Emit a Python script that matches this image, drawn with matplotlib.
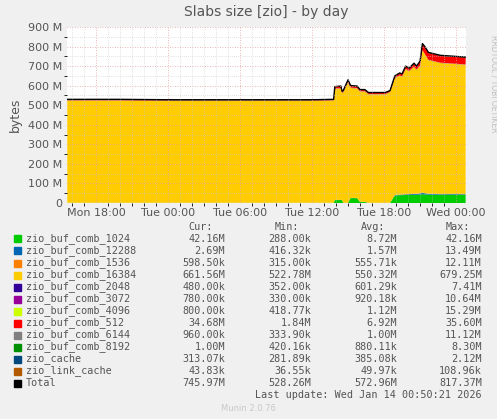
import matplotlib
matplotlib.use("Agg")
import matplotlib.pyplot as plt
import numpy as np

t = [15.6, 20, 24, 30, 36, 37.8, 37.9, 38.4, 38.5, 38.6, 39.0, 39.2, 39.3, 39.75, 40.0, 40.4, 40.7, 42.1,
     42.5, 42.9, 43.3, 43.5, 43.8, 44.1, 44.5, 44.7, 45.0, 45.2, 45.4, 45.7, 46.7, 47.9, 48.8]
total = [530, 530, 528, 528, 528, 530, 595, 598, 572, 575, 630, 602, 600, 598, 580, 580, 565, 565,
         575, 650, 665, 660, 700, 690, 715, 700, 725, 815, 800, 770, 755, 750, 746]
green = [0.3, 0.3, 0.3, 0.3, 0.3, 0.3, 15, 15, 15, 0.3, 0.3, 25, 25, 25, 5, 5, 0.3, 0.3,
         0.3, 38, 40, 40, 41, 41, 42, 42, 43, 45, 44, 43, 42, 43, 42]
red = [2, 2, 2, 2, 2, 2, 8, 8, 6, 6, 8, 8, 8, 8, 6, 6, 5, 5,
       5, 8, 10, 10, 12, 12, 15, 15, 20, 30, 35, 35, 35, 35, 35]
blue12288 = [0.4]*19 + [2, 3, 3, 3, 4, 4, 5, 6, 8, 6, 4, 3, 3, 2.7]
small = 0.6  # each of the other small series (approx.)

names = ["zio_buf_comb_1024", "zio_buf_comb_12288", "zio_buf_comb_1536", "zio_buf_comb_16384",
         "zio_buf_comb_2048", "zio_buf_comb_3072", "zio_buf_comb_4096", "zio_buf_comb_512",
         "zio_buf_comb_6144", "zio_buf_comb_8192", "zio_cache", "zio_link_cache", "Total"]
colors = ["#00CC00", "#0066B3", "#FF8000", "#FFCC00", "#330099", "#990099", "#CCFF00", "#FF0000",
          "#808080", "#008F00", "#00487D", "#B35A00", "#000000"]
cur = ["42.16M", "2.69M", "598.50k", "661.56M", "480.00k", "780.00k", "800.00k", "34.68M", "960.00k", "1.00M", "313.07k", "43.83k", "745.97M"]
mn = ["288.00k", "416.32k", "315.00k", "522.78M", "352.00k", "330.00k", "418.77k", "1.84M", "333.90k", "420.16k", "281.89k", "36.55k", "528.26M"]
avg = ["8.72M", "1.57M", "555.71k", "550.32M", "601.29k", "920.18k", "1.12M", "6.92M", "1.00M", "880.11k", "385.08k", "49.97k", "572.96M"]
mx = ["42.16M", "13.49M", "12.11M", "679.25M", "7.41M", "10.64M", "15.29M", "35.60M", "11.12M", "8.30M", "2.12M", "108.96k", "817.37M"]

tt = np.array(t)
g = np.array(green); b = np.array(blue12288); r = np.array(red); T = np.array(total)
sm = np.full_like(tt, small)
others = 8 * small
yellow = T - g - b - r - others
series = [g, b, sm, yellow, sm, sm, sm, r, sm, sm, sm, sm]

fig = plt.figure(figsize=(4.97, 4.19), dpi=100, facecolor="#F0F0F0")
ax = fig.add_axes([67/497, (419-203)/419, 399/497, 176/419])
ax.set_facecolor("white")
ax.stackplot(tt, *[s*1e6 for s in series], colors=colors[:12], linewidth=0)
ax.plot(tt, T*1e6, color="black", lw=1)
ax.set_xlim(15.58, 48.83)
ax.set_ylim(0, 900e6)
ax.set_yticks(np.arange(0, 901e6, 100e6))
ax.set_yticklabels(["0"] + [f"{v} M" for v in range(100, 901, 100)])
ax.set_yticks(np.arange(50e6, 900e6, 100e6), minor=True)
ax.set_xticks([18, 24, 30, 36, 42, 48])
ax.set_xticklabels(["Mon 18:00", "Tue 00:00", "Tue 06:00", "Tue 12:00", "Tue 18:00", "Wed 00:00"])
ax.set_xticks(np.arange(16, 49, 1), minor=True)
ax.grid(which="major", color="#E0A0A0", ls=(0, (1, 2)), lw=0.6)
ax.grid(which="minor", color="#C8C8C8", ls=(0, (1, 2)), lw=0.5)
ax.set_axisbelow(False)
for s in ax.spines.values():
    s.set_visible(False)
ax.tick_params(labelsize=8, colors="#555555", length=0)
ax.set_ylabel("bytes", fontsize=9, color="#555555")
ax.set_title("Slabs size [zio] - by day", fontsize=10, color="#555555", pad=8)
fig.text(0.985, 0.8, "RRDTOOL / TOBI OETIKER", rotation=270, fontsize=5.5, color="#C0C0C0", va="center")

def fy(px):
    return 1 - px/419
mono = dict(family="DejaVu Sans Mono", fontsize=7.3, color="#555555")
for lab, xr in [("Cur:", 213), ("Min:", 299), ("Avg:", 385), ("Max:", 470)]:
    fig.text(xr/497, fy(227), lab, ha="right", va="center", **mono)
for i in range(13):
    y = fy(239 + 12*i)
    fig.patches.append(plt.Rectangle((14/497, y - 3.5/419), 7/497, 7/419, transform=fig.transFigure,
                                     color=colors[i], figure=fig))
    fig.text(26/497, y, names[i], ha="left", va="center", **mono)
    for v, xr in [(cur[i], 225), (mn[i], 311), (avg[i], 397), (mx[i], 482)]:
        fig.text(xr/497, y, v, ha="right", va="center", **mono)
fig.text(482/497, fy(395), "Last update: Wed Jan 14 00:50:21 2026", ha="right", va="center", **mono)
fig.text(248/497, fy(408), "Munin 2.0.76", ha="center", va="center", fontsize=6, color="#C8C8C8")
fig.savefig("out.png", dpi=100, facecolor=fig.get_facecolor())
